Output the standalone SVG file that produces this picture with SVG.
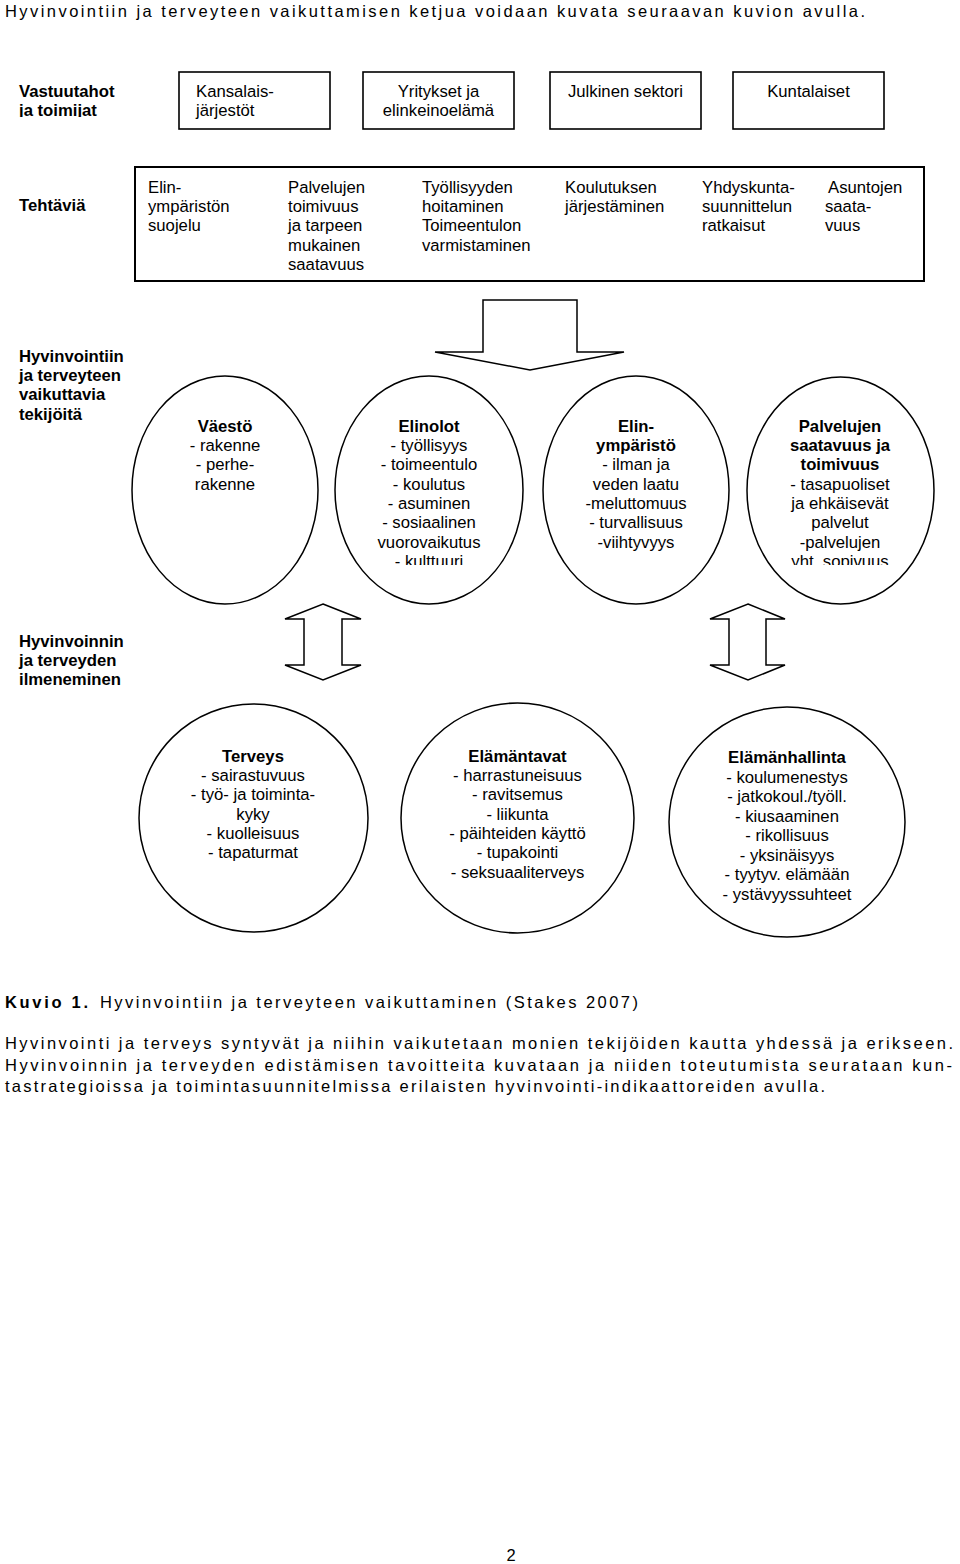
<svg xmlns="http://www.w3.org/2000/svg" width="960" height="1564" viewBox="0 0 960 1564">
<style>
.t{font-family:"Liberation Sans",Arial,sans-serif;font-size:16.7px;fill:#000}
.b{font-weight:bold}
.c{text-anchor:middle}
.s{fill:#fff;stroke:#000;stroke-width:1.5}
.bx{fill:#fff;stroke:#000;stroke-width:1.6}
.p{font-family:"Liberation Sans",Arial,sans-serif;font-size:16.5px;fill:#000}
</style>
<defs>
<clipPath id="clipTop"><rect x="0" y="60" width="170" height="57"/></clipPath>
<clipPath id="clipEll"><rect x="0" y="370" width="960" height="195"/></clipPath>
</defs>
<rect width="960" height="1564" fill="#fff"/>

<text class="p" x="5" y="17.3" font-size="17" textLength="860" lengthAdjust="spacing">Hyvinvointiin ja terveyteen vaikuttamisen ketjua voidaan kuvata seuraavan kuvion avulla.</text>

<g id="label-vastuutahot" clip-path="url(#clipTop)">
<text class="t b" x="19" y="96.5">Vastuutahot<tspan x="19" y="115.8">ja toimijat</tspan></text>
</g>
<g id="box-kansalaisjarjestot">
<rect class="bx" x="179" y="72" width="151" height="57"/>
<text class="t" x="196" y="96.5">Kansalais-<tspan x="196" y="115.8">järjestöt</tspan></text>
</g>
<g id="box-yritykset">
<rect class="bx" x="363" y="72" width="151" height="57"/>
<text class="t c" x="438.5" y="96.5">Yritykset ja<tspan x="438.5" y="115.8">elinkeinoelämä</tspan></text>
</g>
<g id="box-julkinen">
<rect class="bx" x="550" y="72" width="151" height="57"/>
<text class="t c" x="625.5" y="96.5">Julkinen sektori</text>
</g>
<g id="box-kuntalaiset">
<rect class="bx" x="733" y="72" width="151" height="57"/>
<text class="t c" x="808.5" y="96.5">Kuntalaiset</text>
</g>

<g id="label-tehtavia">
<text class="t b" x="19" y="210.7">Tehtäviä</text>
</g>
<g id="box-tehtavia">
<rect x="135" y="167" width="789" height="114" fill="#fff" stroke="#000" stroke-width="2"/>
<text class="t" x="148" y="192.5">Elin-<tspan x="148" y="211.8">ympäristön</tspan><tspan x="148" y="231.2">suojelu</tspan></text>
<text class="t" x="288" y="192.5">Palvelujen<tspan x="288" y="211.8">toimivuus</tspan><tspan x="288" y="231.2">ja tarpeen</tspan><tspan x="288" y="250.5">mukainen</tspan><tspan x="288" y="269.8">saatavuus</tspan></text>
<text class="t" x="422" y="192.5">Työllisyyden<tspan x="422" y="211.8">hoitaminen</tspan><tspan x="422" y="231.2">Toimeentulon</tspan><tspan x="422" y="250.5">varmistaminen</tspan></text>
<text class="t" x="565" y="192.5">Koulutuksen<tspan x="565" y="211.8">järjestäminen</tspan></text>
<text class="t" x="702" y="192.5">Yhdyskunta-<tspan x="702" y="211.8">suunnittelun</tspan><tspan x="702" y="231.2">ratkaisut</tspan></text>
<text class="t" x="828" y="192.5">Asuntojen<tspan x="825" y="211.8">saata-</tspan><tspan x="825" y="231.2">vuus</tspan></text>
</g>

<g id="connectors">
<polygon class="s" points="483,300 577,300 577,352 624,352 530,370 435,352 483,352"/>
<polygon class="s" points="323,604 361,619 342,619 342,665 361,665 323,680 285,665 304,665 304,619 285,619"/>
<polygon class="s" points="748,604 785,619 766,619 766,665 785,665 748,680 710,665 729,665 729,619 710,619"/>
</g>

<g id="label-tekijoita">
<text class="t b" x="19" y="361.5">Hyvinvointiin<tspan x="19" y="380.8">ja terveyteen</tspan><tspan x="19" y="400.2">vaikuttavia</tspan><tspan x="19" y="419.5">tekijöitä</tspan></text>
</g>

<g id="ellipse-vaesto">
<ellipse class="s" cx="225" cy="490" rx="93" ry="114"/>
<text class="t c" x="225" y="431.5"><tspan class="b">Väestö</tspan><tspan x="225" y="450.8">- rakenne</tspan><tspan x="225" y="470.2">- perhe-</tspan><tspan x="225" y="489.5">rakenne</tspan></text>
</g>
<g id="ellipse-elinolot">
<ellipse class="s" cx="429" cy="490" rx="94" ry="114"/>
<text class="t c" x="429" y="431.5" clip-path="url(#clipEll)"><tspan class="b">Elinolot</tspan><tspan x="429" y="450.8">- työllisyys</tspan><tspan x="429" y="470.2">- toimeentulo</tspan><tspan x="429" y="489.5">- koulutus</tspan><tspan x="429" y="508.8">- asuminen</tspan><tspan x="429" y="528.2">- sosiaalinen</tspan><tspan x="429" y="547.5">vuorovaikutus</tspan><tspan x="429" y="566.8">- kulttuuri</tspan></text>
</g>
<g id="ellipse-elinymparisto">
<ellipse class="s" cx="636" cy="490" rx="93" ry="114"/>
<text class="t c" x="636" y="431.5"><tspan class="b">Elin-</tspan><tspan class="b" x="636" y="450.8">ympäristö</tspan><tspan x="636" y="470.2">- ilman ja</tspan><tspan x="636" y="489.5">veden laatu</tspan><tspan x="636" y="508.8">-meluttomuus</tspan><tspan x="636" y="528.2">- turvallisuus</tspan><tspan x="636" y="547.5">-viihtyvyys</tspan></text>
</g>
<g id="ellipse-palvelujen">
<ellipse class="s" cx="840.5" cy="490.5" rx="93.5" ry="113.5"/>
<text class="t c" x="840" y="431.5" clip-path="url(#clipEll)"><tspan class="b">Palvelujen</tspan><tspan class="b" x="840" y="450.8">saatavuus ja</tspan><tspan class="b" x="840" y="470.2">toimivuus</tspan><tspan x="840" y="489.5">- tasapuoliset</tspan><tspan x="840" y="508.8">ja ehkäisevät</tspan><tspan x="840" y="528.2">palvelut</tspan><tspan x="840" y="547.5">-palvelujen</tspan><tspan x="840" y="566.8">yht. sopivuus</tspan></text>
</g>

<g id="label-ilmeneminen">
<text class="t b" x="19" y="646.5">Hyvinvoinnin<tspan x="19" y="665.8">ja terveyden</tspan><tspan x="19" y="685.2">ilmeneminen</tspan></text>
</g>

<g id="circle-terveys">
<ellipse class="s" cx="253.5" cy="818" rx="114.5" ry="114"/>
<text class="t c" x="253" y="761.5"><tspan class="b">Terveys</tspan><tspan x="253" y="780.8">- sairastuvuus</tspan><tspan x="253" y="800.2">- työ- ja toiminta-</tspan><tspan x="253" y="819.5">kyky</tspan><tspan x="253" y="838.8">- kuolleisuus</tspan><tspan x="253" y="858.2">- tapaturmat</tspan></text>
</g>
<g id="circle-elamantavat">
<ellipse class="s" cx="517.5" cy="818" rx="116.5" ry="115"/>
<text class="t c" x="517.5" y="761.5"><tspan class="b">Elämäntavat</tspan><tspan x="517.5" y="780.8">- harrastuneisuus</tspan><tspan x="517.5" y="800.2">- ravitsemus</tspan><tspan x="517.5" y="819.5">- liikunta</tspan><tspan x="517.5" y="838.8">- päihteiden käyttö</tspan><tspan x="517.5" y="858.2">- tupakointi</tspan><tspan x="517.5" y="877.5">- seksuaaliterveys</tspan></text>
</g>
<g id="circle-elamanhallinta">
<ellipse class="s" cx="787" cy="822" rx="118" ry="115"/>
<text class="t c" x="787" y="763"><tspan class="b">Elämänhallinta</tspan><tspan x="787" y="782.6">- koulumenestys</tspan><tspan x="787" y="802.1">- jatkokoul./työll.</tspan><tspan x="787" y="821.7">- kiusaaminen</tspan><tspan x="787" y="841.3">- rikollisuus</tspan><tspan x="787" y="860.8">- yksinäisyys</tspan><tspan x="787" y="880.4">- tyytyv. elämään</tspan><tspan x="787" y="900">- ystävyyssuhteet</tspan></text>
</g>

<text class="p b" x="5" y="1008" textLength="83" lengthAdjust="spacing">Kuvio 1.</text>
<text class="p" x="100" y="1008" textLength="538" lengthAdjust="spacing">Hyvinvointiin ja terveyteen vaikuttaminen (Stakes 2007)</text>
<text class="p" x="5" y="1049" textLength="948" lengthAdjust="spacing">Hyvinvointi ja terveys syntyvät ja niihin vaikutetaan monien tekijöiden kautta yhdessä ja erikseen.</text>
<text class="p" x="5" y="1070.7" textLength="947" lengthAdjust="spacing">Hyvinvoinnin ja terveyden edistämisen tavoitteita kuvataan ja niiden toteutumista seurataan kun-</text>
<text class="p" x="5" y="1092.4" textLength="820" lengthAdjust="spacing">tastrategioissa ja toimintasuunnitelmissa erilaisten hyvinvointi-indikaattoreiden avulla.</text>

<text class="p c" x="511" y="1561" font-size="17">2</text>
</svg>
